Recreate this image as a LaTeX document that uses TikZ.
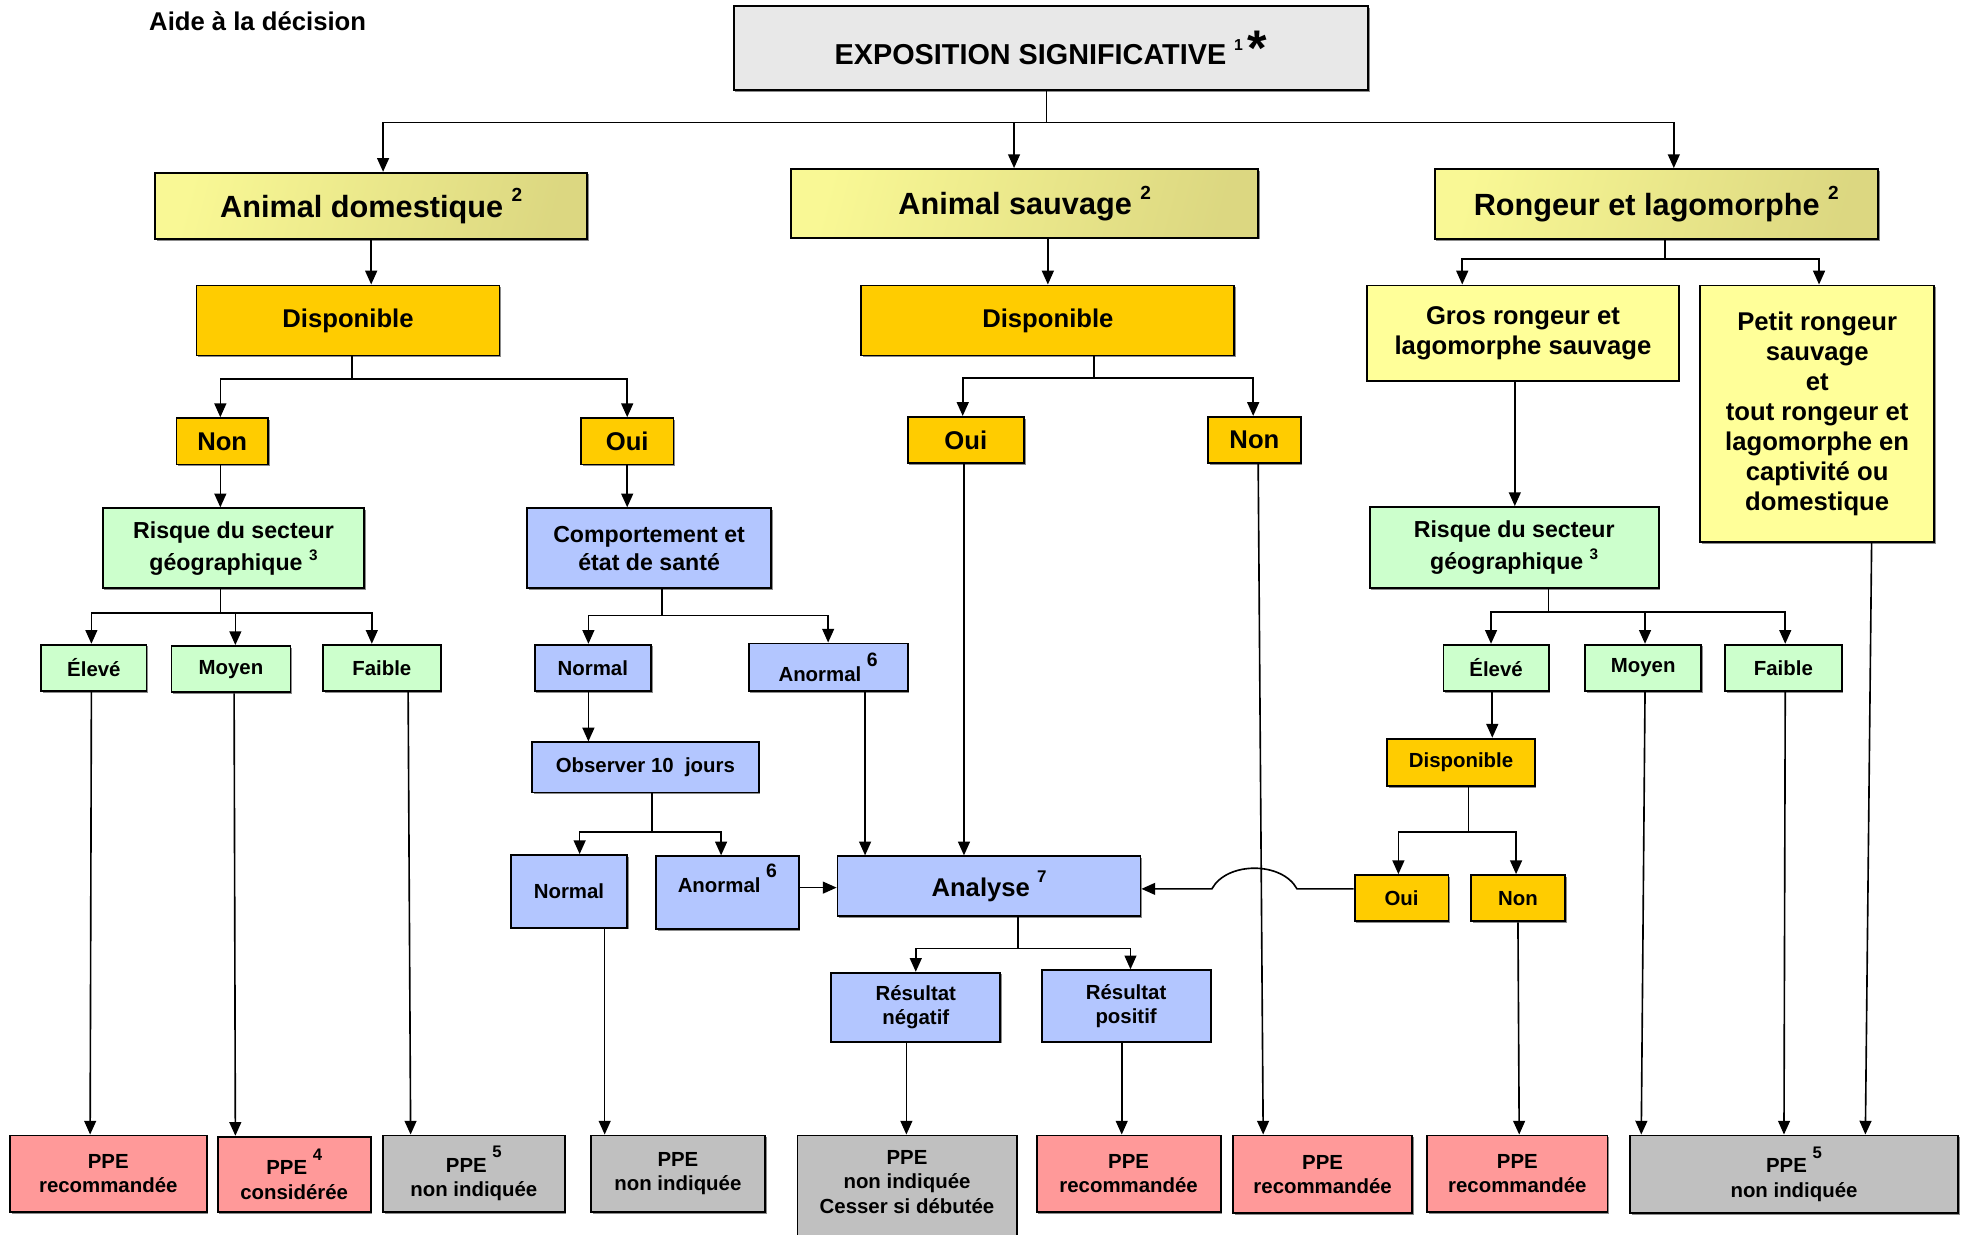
\documentclass[tikz,border=0pt]{standalone}
\usepackage{fontspec}
\setmainfont{Liberation Sans}
\usetikzlibrary{arrows.meta,shadows}
\definecolor{gry}{HTML}{E8E8E8}
\definecolor{yl}{HTML}{FFFF99}
\definecolor{yd}{HTML}{C9C274}
\definecolor{org}{HTML}{FFCC00}
\definecolor{grn}{HTML}{CCFFCC}
\definecolor{blu}{HTML}{B3C6FF}
\definecolor{pnk}{HTML}{FF9999}
\definecolor{gr2}{HTML}{C0C0C0}
\newcommand\fs[2]{\fontsize{#1}{#2}\selectfont}
\newcommand\exs[3]{\raisebox{#2}{\scalebox{#1}{#3}}}
\newcommand\ex[1]{\exs{0.62}{0.5em}{#1}}
\newcommand\bx[7]{\node[#6, minimum width={#4-#2}, minimum height={#5-#3}] (#1) at ({(#2+#4)/2},{(#3+#5)/2}) {#7};}
\tikzset{
  box/.style={draw=black, line width=1.5pt, inner sep=0pt, align=center,
    drop shadow={shadow xshift=1.3pt,shadow yshift=-1.3pt,fill=black!45,opacity=1}},
  fbig/.style={font=\bfseries\fs{24.5}{29}},
  fmid/.style={font=\bfseries\fs{20.5}{24}},
  frisk/.style={font=\bfseries\fs{18.5}{26}},
  fcomp/.style={font=\bfseries\fs{18.5}{22}},
  fsm/.style={font=\bfseries\fs{16.3}{19.5}},
  ygrad/.style={left color=yl!88!yd, middle color=yl, right color=yl!35!yd, shading angle=75},
  arr/.style={line width=1.3pt, -{Triangle[length=11pt,width=9.5pt]}},
}
\begin{document}
\begin{tikzpicture}[x=1pt,y=-1pt]
\useasboundingbox (0,0) rectangle (1568,986);
\clip (0,0) rectangle (1568,986);
\fill[white] (0,0) rectangle (1568,986);

\node[font=\bfseries\fs{20.5}{24}, anchor=west, inner sep=0pt] (title) at (119,17) {Aide à la décision};

% level 0-1
\bx{expo}{586}{5}{1093}{72}{box,fill=gry,font=\bfseries\fs{23}{26}}{EXPOSITION SIGNIFICATIVE \exs{0.55}{0.5em}{1}\,\raisebox{-0.02em}{\fs{40}{40}*}}
\bx{dom}{124}{138}{469}{191}{box,ygrad,fbig}{Animal domestique \ex{2}}
\bx{sauv}{632}{135}{1005}{190}{box,ygrad,fbig}{Animal sauvage \ex{2}}
\bx{rong}{1146}{135}{1500}{191}{box,ygrad,fbig}{Rongeur et lagomorphe \ex{2}}

% level 2
\bx{dispL}{157}{228}{399}{284}{box,fill=org,fmid}{Disponible}
\bx{dispM}{688}{228}{986}{284}{box,fill=org,fmid}{Disponible}
\bx{gros}{1092}{228}{1341}{304}{box,fill=yl,fmid}{Gros rongeur et\\lagomorphe sauvage}
\bx{petit}{1358}{228}{1545}{433}{box,fill=yl,fmid}{Petit rongeur\\sauvage\\et\\tout rongeur et\\lagomorphe en\\captivité ou\\domestique}

% level 3
\bx{nonL}{141}{334}{214}{371}{box,fill=org,fmid}{Non}
\bx{ouiL}{464}{334}{538}{371}{box,fill=org,fmid}{Oui}
\bx{ouiM}{725}{333}{818}{370}{box,fill=org,fmid}{Oui}
\bx{nonM}{965}{333}{1039}{370}{box,fill=org,fmid}{Non}

% level 4
\bx{risqL}{82}{406}{291}{470}{box,fill=grn,frisk}{Risque du secteur\\géographique \exs{0.66}{0.43em}{3}}
\bx{comp}{421}{406}{616}{470}{box,fill=blu,fcomp}{Comportement et\\état de santé}
\bx{risqR}{1094}{405}{1325}{470}{box,fill=grn,frisk}{Risque du secteur\\géographique \exs{0.66}{0.43em}{3}}

% level 5
\bx{eleL}{33}{515}{117}{552}{box,fill=grn,fsm}{Élevé}
\bx{moyL}{137}{516}{232}{553}{box,fill=grn,fsm}{Moyen}
\bx{faiL}{258}{515}{352}{552}{box,fill=grn,fsm}{Faible}
\bx{norm1}{427}{515}{520}{552}{box,fill=blu,fsm}{Normal}
\bx{anor1}{598}{514}{725}{552}{box,fill=blu,fsm}{\raisebox{-0.25em}{Anormal} \exs{0.95}{0.45em}{6}}
\bx{eleR}{1153}{515}{1237}{552}{box,fill=grn,fsm}{Élevé}
\bx{moyR}{1266}{515}{1359}{552}{box,fill=grn,fsm}{Moyen}
\bx{faiR}{1378}{515}{1471}{552}{box,fill=grn,fsm}{Faible}

% level 6
\bx{obs}{425}{593}{606}{633}{box,fill=blu,fsm}{Observer 10 \ jours}
\bx{dispR}{1108}{590}{1226}{628}{box,fill=org,fsm}{Disponible}

% level 7
\bx{norm2}{408}{683}{501}{741}{box,fill=blu,fsm}{Normal}
\bx{anor2}{524}{684}{638}{742}{box,fill=blu,fsm}{Anormal \exs{0.95}{0.72em}{6}\\[4pt]}
\bx{analyse}{669}{684}{911}{732}{box,fill=blu,fmid}{Analyse \exs{0.66}{0.52em}{7}}
\bx{ouiR}{1082}{699}{1157}{736}{box,fill=org,fsm}{Oui}
\bx{nonR}{1175}{699}{1250}{736}{box,fill=org,fsm}{Non}

% level 8
\bx{neg}{664}{777}{799}{832}{box,fill=blu,fsm}{Résultat\\négatif}
\bx{pos}{832}{775}{967}{832}{box,fill=blu,fsm}{Résultat\\positif}

% bottom
\bx{p1}{8}{907}{165}{968}{box,fill=pnk,fsm}{PPE\\recommandée}
\bx{p2}{174}{908}{296}{968}{box,fill=pnk,fsm}{PPE \exs{0.82}{0.7em}{4}\\considérée}
\bx{p3}{306}{907}{451}{968}{box,fill=gr2,fsm}{PPE \exs{0.82}{0.7em}{5}\\non indiquée}
\bx{p4}{472}{907}{611}{968}{box,fill=gr2,fsm}{PPE\\non indiquée}
\bx{p5}{637}{907}{812}{1000}{box,fill=gr2}{}
\node[fsm, align=center, inner sep=0pt] (p5t) at (724.5,944) {PPE\\non indiquée\\Cesser si débutée};
\bx{p6}{828}{907}{975}{968}{box,fill=pnk,fsm}{PPE\\recommandée}
\bx{p7}{985}{907}{1128}{969}{box,fill=pnk,fsm}{PPE\\recommandée}
\bx{p8}{1140}{907}{1284}{968}{box,fill=pnk,fsm}{PPE\\recommandée}
\bx{p9}{1302}{907}{1564}{969}{box,fill=gr2,fsm}{PPE \exs{0.82}{0.7em}{5}\\non indiquée}

% connectors
\draw[arr] ([xshift=-3.5pt]expo.south) -- ++(0,25) -| ([xshift=9.5pt]dom.north);
\draw[arr] ([xshift=-3.5pt]expo.south) -- ++(0,25) -| ([xshift=-8.5pt]sauv.north);
\draw[arr] ([xshift=-3.5pt]expo.south) -- ++(0,25) -| ([xshift=14pt]rong.north);

\draw[arr] (dom.south) -- (dom.south |- dispL.north);
\draw[arr] (dispM.north |- sauv.south) -- (dispM.north);
\draw[arr] ([xshift=7pt]rong.south) -- ++(0,15) -| ([xshift=-48.5pt]gros.north);
\draw[arr] ([xshift=7pt]rong.south) -- ++(0,15) -| ([xshift=1.5pt]petit.north);

\draw[arr] ([xshift=3pt]dispL.south) -- ++(0,18) -| ([xshift=-1.5pt]nonL.north);
\draw[arr] ([xshift=3pt]dispL.south) -- ++(0,18) -| (ouiL.north);
\draw[arr] ([xshift=37pt]dispM.south) -- ++(0,17) -| ([xshift=-2.5pt]ouiM.north);
\draw[arr] ([xshift=37pt]dispM.south) -- ++(0,17) -| ([xshift=-1pt]nonM.north);

\draw[arr] ([xshift=-1.5pt]nonL.south) -- ([xshift=-1.5pt]nonL.south |- risqL.north);
\draw[arr] (ouiL.south) -- (ouiL.south |- comp.north);
\draw[arr] ([xshift=-1.5pt]ouiM.south) -- ([xshift=-1.5pt]ouiM.south |- analyse.north);
\draw[arr] ([xshift=3pt]nonM.south) -- ([xshift=-47.5pt]p7.north);
\draw[arr] ([xshift=-6.5pt]gros.south) -- ([xshift=-6.5pt]gros.south |- risqR.north);
\draw[arr] ([xshift=43.5pt]petit.south) -- ([xshift=57pt]p9.north);

\draw[arr] ([xshift=-10.5pt]risqL.south) -- ++(0,19) -| ([xshift=-2pt]eleL.north);
\draw[arr] ([xshift=-10.5pt]risqL.south) -- ++(0,19) -| ([xshift=3.5pt]moyL.north);
\draw[arr] ([xshift=-10.5pt]risqL.south) -- ++(0,19) -| ([xshift=-8pt]faiL.north);
\draw[arr] ([xshift=10.5pt]comp.south) -- ++(0,21) -| ([xshift=-3.5pt]norm1.north);
\draw[arr] ([xshift=10.5pt]comp.south) -- ++(0,21) -| (anor1.north);
\draw[arr] ([xshift=27.5pt]risqR.south) -- ++(0,18) -| ([xshift=-4pt]eleR.north);
\draw[arr] ([xshift=27.5pt]risqR.south) -- ++(0,18) -| ([xshift=1.5pt]moyR.north);
\draw[arr] ([xshift=27.5pt]risqR.south) -- ++(0,18) -| ([xshift=1.5pt]faiR.north);

\draw[arr] ([xshift=-2pt]eleL.south) -- ([xshift=-14.5pt]p1.north);
\draw[arr] ([xshift=2.5pt]moyL.south) -- ([xshift=-47pt]p2.north);
\draw[arr] ([xshift=21pt]faiL.south) -- ([xshift=-50.5pt]p3.north);
\draw[arr] ([xshift=-3.5pt]norm1.south) -- ([xshift=-3.5pt]norm1.south |- obs.north);
\draw[arr] ([xshift=29.5pt]anor1.south) -- ([xshift=29.5pt]anor1.south |- analyse.north);
\draw[arr] ([xshift=5.5pt]obs.south) -- ++(0,31) -| ([xshift=8.5pt]norm2.north);
\draw[arr] ([xshift=5.5pt]obs.south) -- ++(0,31) -| ([xshift=-5pt]anor2.north);
\draw[arr] ([yshift=4pt]anor2.east) -- ([yshift=4pt]anor2.east -| analyse.west);
\draw[arr] ([xshift=28.5pt]norm2.south) -- ([xshift=-58.5pt]p4.north);
\draw[arr] ([xshift=-3pt]eleR.south) -- ([xshift=-3pt]eleR.south |- dispR.north);
\draw[arr] ([xshift=6pt]dispR.south) -- ++(0,36) -| ([xshift=-2.5pt]ouiR.north);
\draw[arr] ([xshift=6pt]dispR.south) -- ++(0,36) -| ([xshift=-1.5pt]nonR.north);
\coordinate (hopR) at (1036,710);
\coordinate (hopL) at (968,710);
\draw[arr] ([yshift=7.5pt]ouiR.west) -- (hopR) .. controls (1024,688) and (980,688) .. (hopL) -- (analyse.east |- hopL);
\draw[arr] (nonR.south) -- ([xshift=1.5pt]p8.north);
\draw[arr] ([xshift=1.5pt]moyR.south) -- ([xshift=-122pt]p9.north);
\draw[arr] ([xshift=1.5pt]faiR.south) -- ([xshift=-8pt]p9.north);
\draw[arr] ([xshift=23pt]analyse.south) -- ++(0,25) -| (neg.north);
\draw[arr] ([xshift=23pt]analyse.south) -- ++(0,25) -| ([xshift=3.5pt]pos.north);
\draw[arr] ([xshift=-7.5pt]neg.south) -- ([xshift=-7.5pt]neg.south |- p5.north);
\draw[arr] ([xshift=-3.5pt]pos.south) -- ([xshift=-3.5pt]pos.south |- p6.north);
\end{tikzpicture}
\end{document}
